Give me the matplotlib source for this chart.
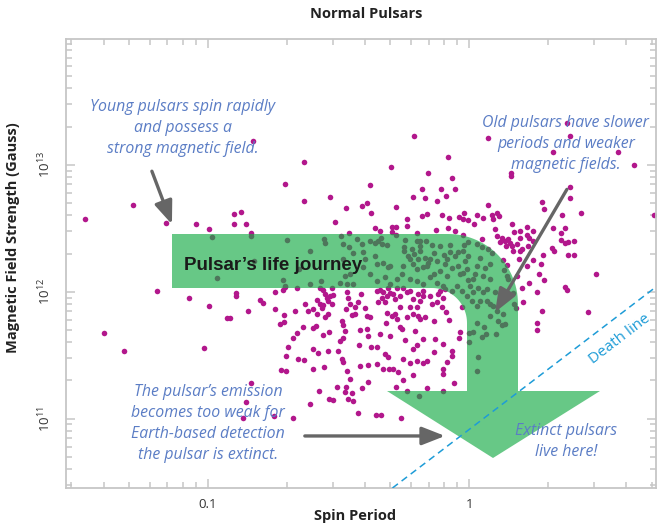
import numpy as np
import matplotlib.pyplot as plt
from matplotlib.path import Path
from matplotlib.patches import PathPatch
from matplotlib.transforms import Affine2D
from matplotlib.ticker import NullFormatter

plt.rcParams['font.family'] = ['Open Sans', 'DejaVu Sans']
plt.rcParams['mathtext.fontset'] = 'custom'
plt.rcParams['mathtext.rm'] = 'Open Sans'

# catalogue of normal pulsars: log10 spin period (s), log10 surface field (G)
log_period = np.array([
    -1.471, -1.287, -1.161, -1.046, -0.996, -0.985, -0.900, -0.874, -0.900, -0.854,
    -0.835, -0.835, -0.824, -0.966, -0.828, -1.195, -1.073, -0.996, -0.893, -0.893,
    -0.847, -0.927, -0.916, -0.801, -0.789, -1.398, -1.322, -1.015, -0.835, -0.854,
    -0.864, -0.747, -0.674, -0.609, -0.575, -0.536, -0.598, -0.556, -0.720, -0.701,
    -0.701, -0.693, -0.655, -0.632, -0.598, -0.579, -0.540, -0.674, -0.659, -0.636,
    -0.598, -0.586, -0.559, -0.536, -0.724, -0.709,
    -0.211, -0.632, -0.080, -0.299, -0.705, -0.632, -0.379, -0.158, -0.064, -0.181,
    -0.108, -0.055, -0.533, -0.216, -0.167, -0.121, -0.089, -0.470, -0.411, -0.390,
    -0.279, -0.377, -0.515, -0.460, -0.360, -0.342, -0.295, -0.279, -0.295, -0.238,
    -0.238, -0.180, -0.162, -0.102, -0.077, -0.038, -0.019, -0.022, -0.005, -0.128,
    -0.082, -0.052, -0.022, -0.003, -0.198,
    0.074, 0.377, 0.387, 0.323, 0.572, 0.631, 0.160, 0.161, 0.387, 0.387,
    0.279, 0.287, 0.357, 0.429, 0.710, 0.074, 0.032, 0.020, 0.052, 0.087,
    0.093, 0.108, 0.116, 0.100, 0.108, 0.164, 0.174, 0.195, 0.221, 0.244,
    0.195, 0.221, 0.125, 0.138, 0.148, 0.157, 0.164, 0.142, 0.119, 0.183,
    0.202, 0.074, 0.087, 0.030, 0.049, 0.195, 0.170, 0.227, 0.323, 0.352,
    0.368, 0.352, 0.368, 0.380, 0.401, 0.317, 0.327, 0.378, 0.401, 0.049,
    0.231, 0.246, 0.285, 0.131, 0.144, 0.193, 0.223, 0.275, 0.269, 0.183,
    0.231, 0.262, 0.369, 0.377, 0.487, 0.208, 0.279, 0.457, 0.246, 0.287,
    0.204, 0.170, 0.174, 0.180, 0.262, 0.262, 0.135, 0.144, 0.151, -0.037,
    -0.066, -0.066, -0.085, -0.098, -0.101, -0.056, -0.160, -0.280, -0.261, -0.356,
    -0.338, -0.424, -0.386, -0.409, -0.456, -0.475, -0.462, -0.446, -0.507, -0.522,
    -0.236, -0.193, -0.098, 0.030, 0.057, 0.112, 0.126, 0.138, 0.001, 0.016,
    0.049, 0.065, -0.001, 0.033, 0.030,
    -0.743, -0.714, -0.705, -0.660, -0.743, -0.709, -0.667, -0.628, -0.616, -0.597,
    -0.584, -0.571, -0.564, -0.558, -0.552, -0.545, -0.539, -0.533, -0.526, -0.520,
    -0.558, -0.571, -0.526, -0.584, -0.552, -0.539, -0.488, -0.482, -0.475, -0.482,
    -0.494, -0.501, -0.488, -0.482, -0.469, -0.471, -0.449, -0.418, -0.386, -0.354,
    -0.328, -0.307, -0.420, -0.377, -0.354, -0.392, -0.386, -0.418, -0.469, -0.462,
    -0.471, -0.449, -0.437, -0.424, -0.415, -0.398, -0.392, -0.379, -0.437, -0.456,
    -0.354, -0.341, -0.328, -0.335, -0.322, -0.315, -0.309, -0.303, -0.290, -0.284,
    -0.277, -0.264, -0.252, -0.239, -0.226, -0.348, -0.315, -0.296, -0.284, -0.277,
    -0.264, -0.318, -0.341, -0.303, -0.322, -0.309, -0.290, -0.271, -0.254, -0.213,
    -0.252, -0.226, -0.200, -0.175, -0.162, -0.245, -0.213, -0.200, -0.175, -0.207,
    -0.239, -0.213, -0.194, -0.188, -0.169, -0.200, -0.188, -0.175, -0.213, -0.194,
    -0.175, -0.149, -0.143, -0.124, -0.118, -0.111, -0.098, -0.092, -0.136, -0.130,
    -0.136, -0.101, -0.088, -0.077, -0.105, -0.034, -0.226, -0.258, -0.264,
    -0.697, -0.609, -0.554, -0.551, -0.492, -0.483, -0.461, -0.444, -0.406, -0.378,
    -0.359, -0.350, -0.337, -0.332, -0.315, -0.280, -0.245, -0.248, -0.248, -0.200,
    -0.188, -0.166, -0.189, -0.220, -0.211, -0.234, -0.143, -0.133, -0.188, -0.095,
    -0.073, -0.072, -0.043, -0.018, -0.022, -0.397, -0.609, -0.568, -0.711, -0.705,
    -0.652, -0.430, -0.411, -0.360, -0.328, -0.482, -0.379, -0.303, -0.226, -0.169,
    -0.149, -0.252, -0.200, -0.162, -0.136, -0.226, -0.111, -0.085, -0.054, -0.015,
    -0.111, -0.085, -0.066, -0.041, -0.022, -0.098, -0.066, -0.047, -0.028, -0.009,
    0.004, 0.016, 0.036, 0.055, 0.068, 0.093, 0.106, 0.080, 0.010, 0.030,
    -0.009, 0.030, 0.055, 0.080, 0.100, 0.125, -0.475, -0.469, -0.003, 0.042,
    0.061, 0.080, 0.023, -0.003, 0.016, 0.068, 0.042, 0.080, 0.131, 0.102,
    -0.494, -0.456, -0.443, -0.405, -0.354, -0.322, -0.303, -0.277, -0.258, -0.354,
    -0.309, -0.213, -0.194, -0.175, -0.156, -0.124, -0.092, -0.034, -0.200, -0.175,
    -0.149, -0.124, -0.028,
])

log_field = np.array([
    12.571, 12.681, 12.539, 12.531, 12.492, 12.429, 12.610, 12.630, 12.531, 12.531,
    12.461, 12.437, 12.240, 12.106, 13.189, 12.004, 11.949, 11.886, 11.988, 11.965,
    11.846, 11.791, 11.791, 11.933, 11.909, 11.673, 11.531, 11.555, 11.280, 11.134,
    11.004, 11.024, 11.008, 11.114, 11.217, 11.154, 11.390, 11.406, 11.384, 11.376,
    11.494, 11.563, 11.469, 11.463, 11.547, 11.516, 11.534, 11.634, 11.673, 11.720,
    11.713, 11.728, 11.660, 11.679, 11.746, 11.762,
    13.227, 13.020, 13.059, 12.980, 12.846, 12.718, 12.844, 12.933, 12.894, 12.807,
    12.807, 12.807, 12.744, 12.744, 12.736, 12.718, 12.754, 12.657, 12.679, 12.702,
    12.668, 12.624, 12.547, 12.466, 12.500, 12.479, 12.508, 12.508, 12.474, 12.571,
    12.516, 12.594, 12.616, 12.605, 12.581, 12.592, 12.618, 12.576, 12.565, 12.487,
    12.502, 12.482, 12.445, 12.395, 12.463,
    13.209, 13.332, 13.227, 13.101, 13.101, 13.002, 12.939, 12.912, 12.828, 12.736,
    12.710, 12.650, 12.605, 12.618, 12.602, 12.681, 12.602, 12.537, 12.584, 12.602,
    12.576, 12.624, 12.597, 12.492, 12.439, 12.531, 12.474, 12.479, 12.510, 12.476,
    12.427, 12.447, 12.427, 12.400, 12.419, 12.387, 12.361, 12.361, 12.392, 12.374,
    12.340, 12.340, 12.303, 12.374, 12.356, 12.321, 12.321, 12.361, 12.500, 12.461,
    12.500, 12.408, 12.387, 12.392, 12.400, 12.343, 12.317, 12.287, 12.287, 12.419,
    12.427, 12.400, 12.287, 12.250, 12.214, 12.261, 12.203, 12.217, 12.138, 12.124,
    12.072, 11.998, 12.038, 12.012, 12.138, 11.915, 11.849, 11.844, 12.248, 12.091,
    12.033, 11.986, 11.907, 11.870, 11.752, 11.697, 12.169, 12.124, 12.098, 11.634,
    11.534, 11.494, 11.450, 11.390, 11.350, 11.280, 11.238, 11.250, 11.006, 11.025,
    11.025, 11.043, 11.287, 11.238, 11.309, 11.211, 11.154, 11.138, 11.250, 11.146,
    11.214, 11.175, 11.214, 11.752, 11.720, 11.770, 11.736, 11.744, 11.673, 11.679,
    11.647, 11.665, 11.605, 11.487, 11.372,
    11.994, 12.012, 12.038, 12.033, 11.862, 11.815, 11.849, 11.902, 11.849, 11.862,
    11.933, 11.902, 11.870, 11.896, 11.980, 11.954, 11.928, 11.967, 11.902, 11.975,
    12.012, 12.033, 12.033, 11.823, 11.797, 11.823, 11.770, 11.736, 11.691, 11.639,
    11.608, 11.534, 11.469, 11.443, 11.376, 11.246, 11.198, 11.413, 11.423, 11.429,
    11.390, 11.390, 11.581, 11.561, 11.561, 11.705, 11.652, 11.697, 11.994, 11.954,
    11.862, 11.817, 11.876, 11.915, 11.980, 11.868, 11.809, 11.797, 11.823, 11.902,
    12.006, 12.012, 11.994, 11.954, 11.915, 11.967, 12.033, 11.986, 11.980, 11.941,
    12.033, 11.967, 12.033, 11.994, 12.006, 11.915, 11.836, 11.809, 11.823, 11.783,
    11.718, 11.757, 11.665, 11.652, 11.508, 11.482, 11.390, 11.364, 11.303, 11.345,
    11.469, 11.439, 11.455, 11.435, 11.455, 11.618, 11.547, 11.581, 11.626, 11.687,
    11.797, 11.823, 11.809, 11.783, 11.797, 11.876, 11.928, 11.967, 11.941, 11.980,
    12.006, 11.967, 11.902, 11.915, 11.980, 12.006, 11.954, 12.020, 11.770, 11.626,
    11.521, 11.587, 11.844, 11.776, 11.876, 11.679, 11.876, 11.705, 11.876,
    12.406, 12.317, 12.419, 12.387, 12.439, 12.374, 12.353, 12.303, 12.309, 12.403,
    12.382, 12.400, 12.421, 12.374, 12.369, 12.443, 12.411, 12.356, 12.321, 12.398,
    12.398, 12.400, 12.361, 12.340, 12.298, 12.282, 12.366, 12.303, 12.321, 12.293,
    12.309, 12.369, 12.309, 12.369, 12.321, 12.261, 12.057, 12.088, 12.093, 12.046,
    12.177, 12.413, 12.374, 12.282, 12.230, 12.256, 12.138, 12.203, 12.256, 12.269,
    12.256, 12.203, 12.177, 12.203, 12.138, 12.098, 12.361, 12.256, 12.282, 12.243,
    12.164, 12.124, 12.190, 12.203, 12.151, 12.046, 12.006, 12.046, 12.006, 11.967,
    12.046, 12.098, 12.033, 11.994, 11.928, 11.888, 11.849, 11.809, 11.928, 11.888,
    12.177, 12.203, 12.124, 12.098, 11.994, 12.006, 12.124, 12.059, 12.282, 12.269,
    12.190, 12.217, 12.138, 12.091, 11.994, 12.020, 11.928, 11.902, 11.825, 11.665,
    12.065, 12.138, 12.059, 12.191, 12.085, 12.112, 12.059, 12.098, 12.138, 12.217,
    12.191, 12.217, 12.256, 12.191, 12.230, 12.243, 12.217, 12.138, 12.085, 12.059,
    12.112, 12.072, 11.876,
])

period = 10 ** log_period
field = 10 ** log_field

period_ticks = [0.1, 1]
period_labels = ['0.1', '1']
field_ticks = [1e11, 1e12, 1e13]
field_labels = ['10$^{11}$', '10$^{12}$', '10$^{13}$']

# death line  B = death_b1 * P**death_slope
death_slope = 1.57
death_b1 = 8.2e10

magenta = '#b2178c'
shaded = '#4e765b'
green = '#67c886'
note_blue = '#5b7dc5'
grey = '#666666'
cyan = '#1e9cd7'

fig = plt.figure(figsize=(6.58, 5.28), dpi=100)
ax_w, ax_h = 590, 449
ax = fig.add_axes([66 / 658, 40 / 528, ax_w / 658, ax_h / 528])
ax.set_xscale('log')
ax.set_yscale('log')
ax.set_xlim(0.0286, 5.2)
ax.set_ylim(2.84e10, 9.8e13)

ax.scatter(period, field, s=16, color=magenta, linewidths=0, zorder=2)

# big "life journey" arrow, drawn in axes pixel units
def arc(cx, cy, r, a0, a1, n=30):
    t = np.radians(np.linspace(a0, a1, n))
    return np.column_stack([cx + r * np.cos(t), cy + r * np.sin(t)])

outline = np.vstack([
    [[106, 254]],
    arc(382, 184, 70, 90, 0),
    [[452, 97], [534, 97], [427, 30], [321, 97], [401, 97]],
    arc(366, 165, 35, 0, 90),
    [[106, 200], [106, 254]],
])
codes = [Path.MOVETO] + [Path.LINETO] * (len(outline) - 2) + [Path.CLOSEPOLY]
journey = PathPatch(Path(outline, codes), facecolor=green, edgecolor='none',
                    transform=Affine2D().scale(1 / ax_w, 1 / ax_h) + ax.transAxes,
                    zorder=3)
ax.add_patch(journey)

under = ax.scatter(period, field, s=16, color=shaded, linewidths=0, zorder=4)
under.set_clip_path(journey)

ax.text(0.0809, 1.49e12, 'Pulsar\u2019s life journey', fontsize=13.5,
        fontweight='bold', color='#1a1a1a', zorder=6,
        family=['Liberation Sans', 'DejaVu Sans'])

# death line
p_line = np.array([0.4, 6.0])
ax.plot(p_line, death_b1 * p_line ** death_slope, color=cyan, lw=1.1,
        dashes=(4.5, 3), zorder=5)
ax.text(3.79, 4.23e11, 'Death line', color=cyan, fontsize=11, rotation=37.4,
        rotation_mode='anchor', ha='center', va='center', zorder=6)

# notes
note = dict(color=note_blue, fontsize=11.4, style='italic', ha='center',
            va='center', linespacing=1.42, zorder=6)
ax.text(0.0802, 1.94e13, 'Young pulsars spin rapidly\nand possess a\nstrong magnetic field.', **note)
ax.text(2.35, 1.45e13, 'Old pulsars have slower\nperiods and weaker\nmagnetic fields.', **note)
ax.text(0.1, 9.15e10, 'The pulsar\u2019s emission\nbecomes too weak for\nEarth-based detection\nthe pulsar is extinct.', **note)
ax.text(2.35, 6.6e10, 'Extinct pulsars\nlive here!', **note)

arrow = dict(arrowstyle='-|>,head_length=1.4,head_width=0.55', lw=2.4,
             color=grey, mutation_scale=10, shrinkA=0, shrinkB=0)
ax.annotate('', xy=(0.0728, 3.4e12), xytext=(0.061, 8.9e12), arrowprops=arrow, zorder=7)
ax.annotate('', xy=(1.258, 6.9e11), xytext=(2.37, 6.4e12), arrowprops=arrow, zorder=7)
ax.annotate('', xy=(0.809, 7.3e10), xytext=(0.235, 7.3e10), arrowprops=arrow, zorder=7)

# axes styling
for s in ax.spines.values():
    s.set_color('#c6c6c6')
    s.set_linewidth(1.3)
ax.tick_params(which='both', direction='in', top=True, right=True,
               color='#c6c6c6', width=1.1, labelsize=9.5, labelcolor='#333333')
ax.tick_params(which='major', length=6.5)
ax.tick_params(which='minor', length=4.3)
ax.set_xticks(period_ticks, period_labels)
ax.xaxis.set_minor_formatter(NullFormatter())
ax.set_yticks(field_ticks, field_labels, rotation=90, va='center')
ax.yaxis.set_minor_formatter(NullFormatter())
ax.tick_params(axis='x', pad=7)
ax.tick_params(axis='y', pad=9)

fig.text(366 / 658, 1 - 14 / 528, 'Normal Pulsars', ha='center', va='center',
         fontsize=10.5, fontweight='bold', color='#222222')
fig.text(355 / 658, 1 - 516 / 528, 'Spin Period', ha='center', va='center',
         fontsize=10.5, fontweight='bold', color='#222222')
fig.text(13 / 658, 1 - 238 / 528, 'Magnetic Field Strength (Gauss)', ha='center',
         va='center', rotation=90, fontsize=10.5, fontweight='bold', color='#222222')

fig.savefig('out.png', dpi=100)
